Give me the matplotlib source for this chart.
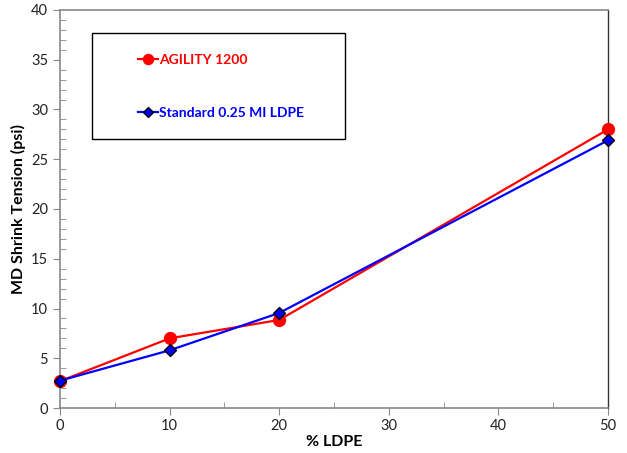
import matplotlib.pyplot as plt
from matplotlib.patches import Rectangle
from matplotlib.ticker import MultipleLocator

plt.rcParams['font.family'] = ['Lato', 'DejaVu Sans']

# Data
ldpe = [0, 10, 20, 50]
agility = [2.7, 7.0, 8.85, 28.0]
standard = [2.75, 5.8, 9.55, 26.9]

fig = plt.figure(figsize=(6.27, 4.53), dpi=100)
ax = fig.add_axes([0.0957, 0.0993, 0.8740, 0.8787])

ax.plot(ldpe, agility, color='#ff0000', lw=1.6, marker='o', ms=8.5,
        mfc='#ff0000', mec='#ff0000', label='AGILITY 1200', clip_on=False, zorder=4)
ax.plot(ldpe, standard, color='#0000ff', lw=1.6, marker='D', ms=6.5,
        mfc='#0000ff', mec='black', mew=1.0, label='Standard 0.25 MI LDPE',
        clip_on=False, zorder=5)

ax.set_xlim(0, 50)
ax.set_ylim(0, 40)
ax.xaxis.set_major_locator(MultipleLocator(10))
ax.xaxis.set_minor_locator(MultipleLocator(5))
ax.yaxis.set_major_locator(MultipleLocator(5))
ax.yaxis.set_minor_locator(MultipleLocator(1))
ax.tick_params(which='major', direction='out', length=5, color='#888888',
               labelsize=10.5, labelcolor='#222222')
ax.tick_params(which='minor', direction='in', length=4, color='#888888')
ax.tick_params(axis='x', pad=3)

for side in ['left', 'bottom', 'top']:
    ax.spines[side].set_color('#888888')
    ax.spines[side].set_linewidth(1.2)
ax.spines['right'].set_color('#333333')
ax.spines['right'].set_linewidth(1.0)

ax.set_xlabel('% LDPE', fontsize=11.5, fontweight='bold', labelpad=1)
ax.set_ylabel('MD Shrink Tension (psi)', fontsize=11.5, fontweight='bold', labelpad=4)

# legend box
ax.add_patch(Rectangle((0.058, 0.676), 0.462, 0.266, transform=ax.transAxes,
                       fill=False, edgecolor='black', lw=1.0, zorder=3))
leg = ax.legend(loc='upper left', bbox_to_anchor=(0.12, 0.92), frameon=False,
                handlelength=1.4, handletextpad=0.1, labelspacing=2.9,
                prop={'weight': 'bold', 'size': 10}, labelcolor='linecolor',
                markerscale=0.85)

plt.savefig('out.png', dpi=100)
